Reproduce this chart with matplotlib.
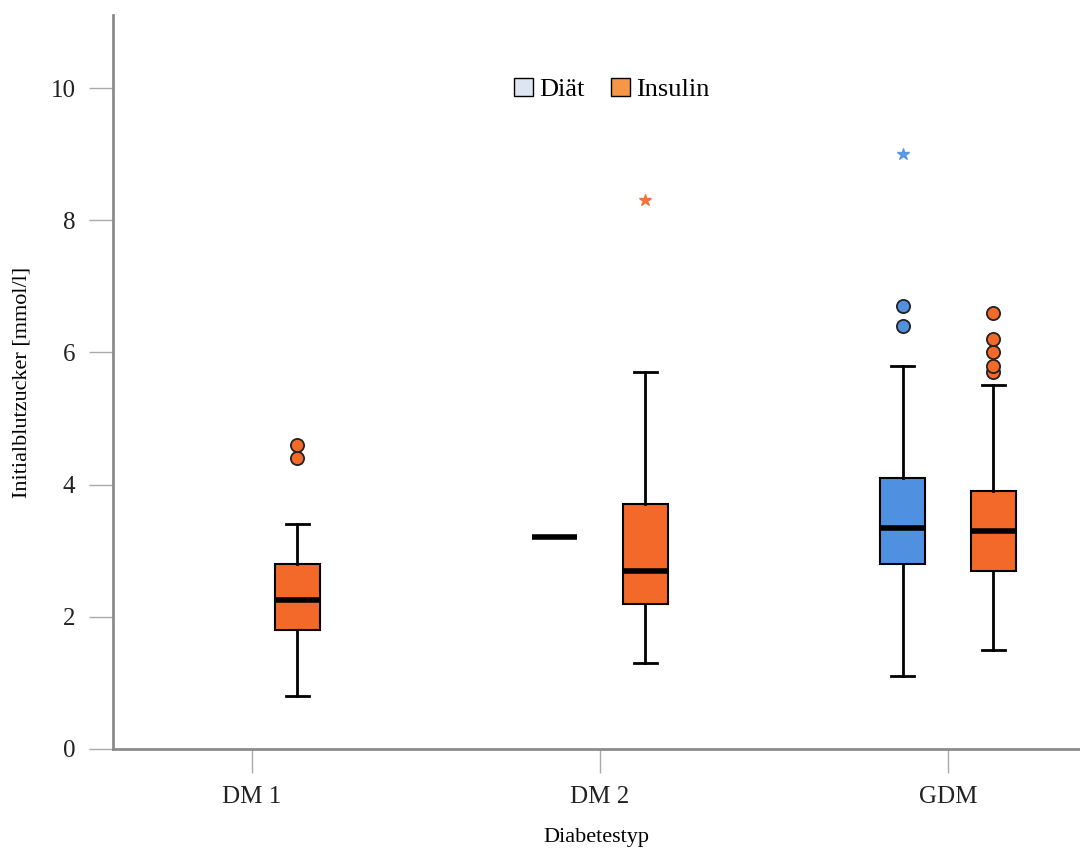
import matplotlib
matplotlib.use('Agg')
import matplotlib.pyplot as plt
from matplotlib.patches import Patch

plt.rcParams['font.family'] = ['Liberation Serif', 'DejaVu Serif']

categories = ['DM 1', 'DM 2', 'GDM']
groups = ['Diät', 'Insulin']
colors = {'Diät': '#5090E0', 'Insulin': '#F2692A'}
legend_colors = {'Diät': '#DCE6F2', 'Insulin': '#F79646'}

# five-number summaries per (category, group): whislo, q1, med, q3, whishi
summary = {
    ('DM 1', 'Insulin'): (0.8, 1.8, 2.25, 2.8, 3.4),
    ('DM 2', 'Diät'): (3.2, 3.2, 3.2, 3.2, 3.2),
    ('DM 2', 'Insulin'): (1.3, 2.2, 2.7, 3.7, 5.7),
    ('GDM', 'Diät'): (1.1, 2.8, 3.35, 4.1, 5.8),
    ('GDM', 'Insulin'): (1.5, 2.7, 3.3, 3.9, 5.5),
}
outliers = {
    ('DM 1', 'Insulin'): [4.4, 4.6],
    ('GDM', 'Diät'): [6.4, 6.7],
    ('GDM', 'Insulin'): [5.7, 5.8, 6.0, 6.2, 6.6],
}
extremes = {
    ('DM 2', 'Insulin'): [8.3],
    ('GDM', 'Diät'): [9.0],
}

offset = {'Diät': -0.13, 'Insulin': 0.13}
box_w = 0.13

fig = plt.figure(figsize=(10.8, 8.55), dpi=100)
ax = fig.add_axes([0.1046, 0.124, 0.8954, 0.858])

for ci, cat in enumerate(categories):
    for g in groups:
        key = (cat, g)
        if key not in summary:
            continue
        lo, q1, med, q3, hi = summary[key]
        pos = ci + offset[g]
        stats = [{'whislo': lo, 'q1': q1, 'med': med, 'q3': q3, 'whishi': hi,
                  'fliers': outliers.get(key, [])}]
        single = (lo == hi)
        ax.bxp(stats, positions=[pos], widths=box_w, patch_artist=True,
               showcaps=not single,
               boxprops=dict(facecolor=colors[g], edgecolor='black', linewidth=1.5),
               medianprops=dict(color='black', linewidth=4, solid_capstyle='butt'),
               whiskerprops=dict(color='black', linewidth=2),
               capprops=dict(color='black', linewidth=2),
               capwidths=box_w / 2,
               flierprops=dict(marker='o', markerfacecolor=colors[g],
                               markeredgecolor='#222222', markersize=9.5,
                               markeredgewidth=1.3))
        if key in extremes:
            ax.plot([pos] * len(extremes[key]), extremes[key], linestyle='none',
                    marker='*', markersize=9, color=colors[g], alpha=0.9)

ax.set_xlim(-0.3994, 2.3793)
ax.set_ylim(0, 11.1)
ax.set_xticks(range(len(categories)))
ax.set_xticklabels(categories)
ax.set_yticks([0, 2, 4, 6, 8, 10])

for side in ['top', 'right']:
    ax.spines[side].set_visible(False)
for side in ['left', 'bottom']:
    ax.spines[side].set_color('#8c8c8c')
    ax.spines[side].set_linewidth(2)
ax.tick_params(axis='both', direction='out', length=17, width=1, color='#aaaaaa',
               labelsize=18, labelcolor='#222222', pad=10)

ax.set_xlabel('Diabetestyp', fontsize=16, labelpad=14)
ax.set_ylabel('Initialblutzucker [mmol/l]', fontsize=16, labelpad=14)

handles = [Patch(facecolor=legend_colors[g], edgecolor='black', label=g) for g in groups]
ax.legend(handles=handles, ncol=2, loc='center', bbox_to_anchor=(0.516, 0.899),
          frameon=False, fontsize=19, handlelength=0.7, handleheight=0.7,
          handletextpad=0.25, columnspacing=1.0)

fig.savefig('out.png', dpi=100)
